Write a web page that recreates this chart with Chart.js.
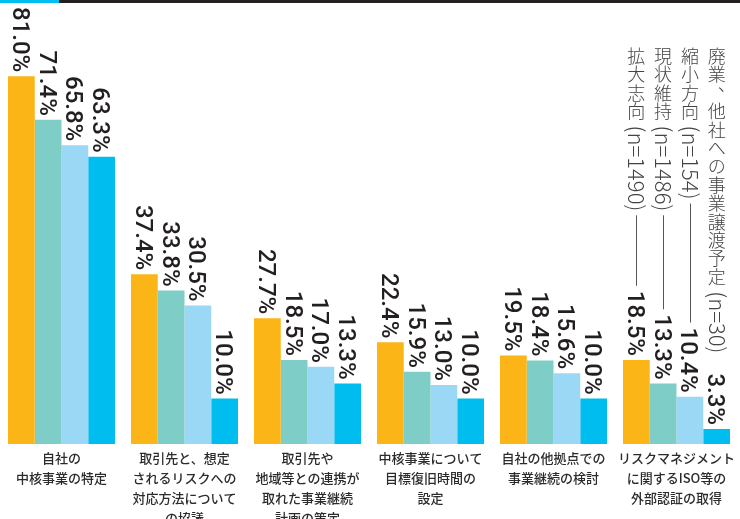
<!DOCTYPE html>
<html>
<head>
<meta charset="utf-8">
<script src="https://cdn.jsdelivr.net/npm/chart.js@4.4.1/dist/chart.umd.min.js"></script>
<style>
  html, body { margin: 0; padding: 0; background: #fff; }
  #wrap { position: relative; width: 740px; height: 519px; overflow: hidden; }
</style>
</head>
<body>
<div id="wrap"><canvas id="chart" width="740" height="519" style="width:740px;height:519px"></canvas></div>
<script>
const categories = [
  ["自社の", "中核事業の特定"],
  ["取引先と、想定", "されるリスクへの", "対応方法について", "の協議"],
  ["取引先や", "地域等との連携が", "取れた事業継続", "計画の策定"],
  ["中核事業について", "目標復旧時間の", "設定"],
  ["自社の他拠点での", "事業継続の検討"],
  ["リスクマネジメント", "に関するISO等の", "外部認証の取得"]
];

const seriesNames = ["拡大志向", "現状維持", "縮小方向", "廃業、他社への事業譲渡予定"];
const seriesCounts = ["(n=1490)", "(n=1486)", "(n=154)", "(n=30)"];

const expandValues = [81.0, 37.4, 27.7, 22.4, 19.5, 18.5];
const maintainValues = [71.4, 33.8, 18.5, 15.9, 18.4, 13.3];
const shrinkValues = [65.8, 30.5, 17.0, 13.0, 15.6, 10.4];
const closeValues = [63.3, 10.0, 13.3, 10.0, 10.0, 3.3];

const colors = ["#fbb517", "#7ecdc7", "#9ad8f6", "#00bdf0"];

// value labels, vertical legend and top strip
const decor = {
  id: "decor",
  beforeDraw(chart) {
    const ctx = chart.ctx;
    ctx.save();
    ctx.fillStyle = "#231f20";
    ctx.fillRect(0, 0, chart.width, 3);
    ctx.fillStyle = "#00bdf0";
    ctx.fillRect(0, 0, 59, 3);
    ctx.restore();
  },
  afterDatasetsDraw(chart) {
    const ctx = chart.ctx;
    const labelTops = [];
    chart.data.datasets.forEach((ds, i) => {
      const meta = chart.getDatasetMeta(i);
      labelTops[i] = [];
      meta.data.forEach((bar, j) => {
        const txt = ds.data[j].toFixed(1) + "%";
        ctx.save();
        ctx.font = "500 24px Roboto";
        const w = ctx.measureText(txt).width;
        labelTops[i][j] = bar.y - 4 - w;
        ctx.translate(bar.x, bar.y - 4);
        ctx.rotate(Math.PI / 2);
        ctx.fillStyle = "#231f20";
        ctx.textAlign = "right";
        ctx.textBaseline = "alphabetic";
        ctx.fillText(txt, 0, 8.5);
        ctx.restore();
      });
    });

    // legend written vertically above the last group
    const last = chart.data.labels.length - 1;
    seriesNames.forEach((name, i) => {
      const bar = chart.getDatasetMeta(i).data[last];
      const x = bar.x;
      let y = 47;
      const adv = 18.4;
      ctx.save();
      ctx.fillStyle = "#444";
      ctx.font = "300 18px 'Noto Sans CJK JP'";
      ctx.textAlign = "center";
      ctx.textBaseline = "middle";
      for (const ch of name) {
        if (ch === "、") {
          ctx.fillText(ch, x + 10, y + adv / 2 - 9);
        } else {
          ctx.fillText(ch, x, y + adv / 2);
        }
        y += adv;
      }
      y += 5;
      ctx.translate(x, y);
      ctx.rotate(Math.PI / 2);
      ctx.font = "300 22px 'Noto Sans CJK JP'";
      ctx.textAlign = "left";
      ctx.textBaseline = "alphabetic";
      const nw = ctx.measureText(seriesCounts[i]).width;
      ctx.fillText(seriesCounts[i], 0, 8);
      ctx.restore();

      const y0 = y + nw + 4;
      const y1 = labelTops[i][last] - 5;
      if (y1 - y0 > 30) {
        ctx.save();
        ctx.strokeStyle = "#555";
        ctx.lineWidth = 1;
        ctx.beginPath();
        ctx.moveTo(Math.round(x) + 0.5, y0);
        ctx.lineTo(Math.round(x) + 0.5, y1);
        ctx.stroke();
        ctx.restore();
      }
    });
  }
};

new Chart(document.getElementById("chart"), {
  type: "bar",
  data: {
    labels: categories,
    datasets: [
      { label: seriesNames[0], data: expandValues, backgroundColor: colors[0] },
      { label: seriesNames[1], data: maintainValues, backgroundColor: colors[1] },
      { label: seriesNames[2], data: shrinkValues, backgroundColor: colors[2] },
      { label: seriesNames[3], data: closeValues, backgroundColor: colors[3] }
    ]
  },
  options: {
    responsive: false,
    animation: false,
    layout: { padding: { left: 0, right: 2, top: 0, bottom: 0 } },
    datasets: { bar: { barPercentage: 1, categoryPercentage: 0.87, borderWidth: 0 } },
    plugins: { legend: { display: false }, tooltip: { enabled: false } },
    scales: {
      x: {
        grid: { display: false, drawTicks: false },
        border: { display: false },
        ticks: {
          autoSkip: false,
          maxRotation: 0,
          padding: 4,
          color: "#2b2b2b",
          font: { family: "'Noto Sans CJK JP'", size: 13, weight: "500", lineHeight: 1.54 }
        },
        afterFit(scale) { scale.height = 75; }
      },
      y: {
        display: false,
        min: 0,
        max: 97.8
      }
    }
  },
  plugins: [decor]
});
</script>
</body>
</html>
